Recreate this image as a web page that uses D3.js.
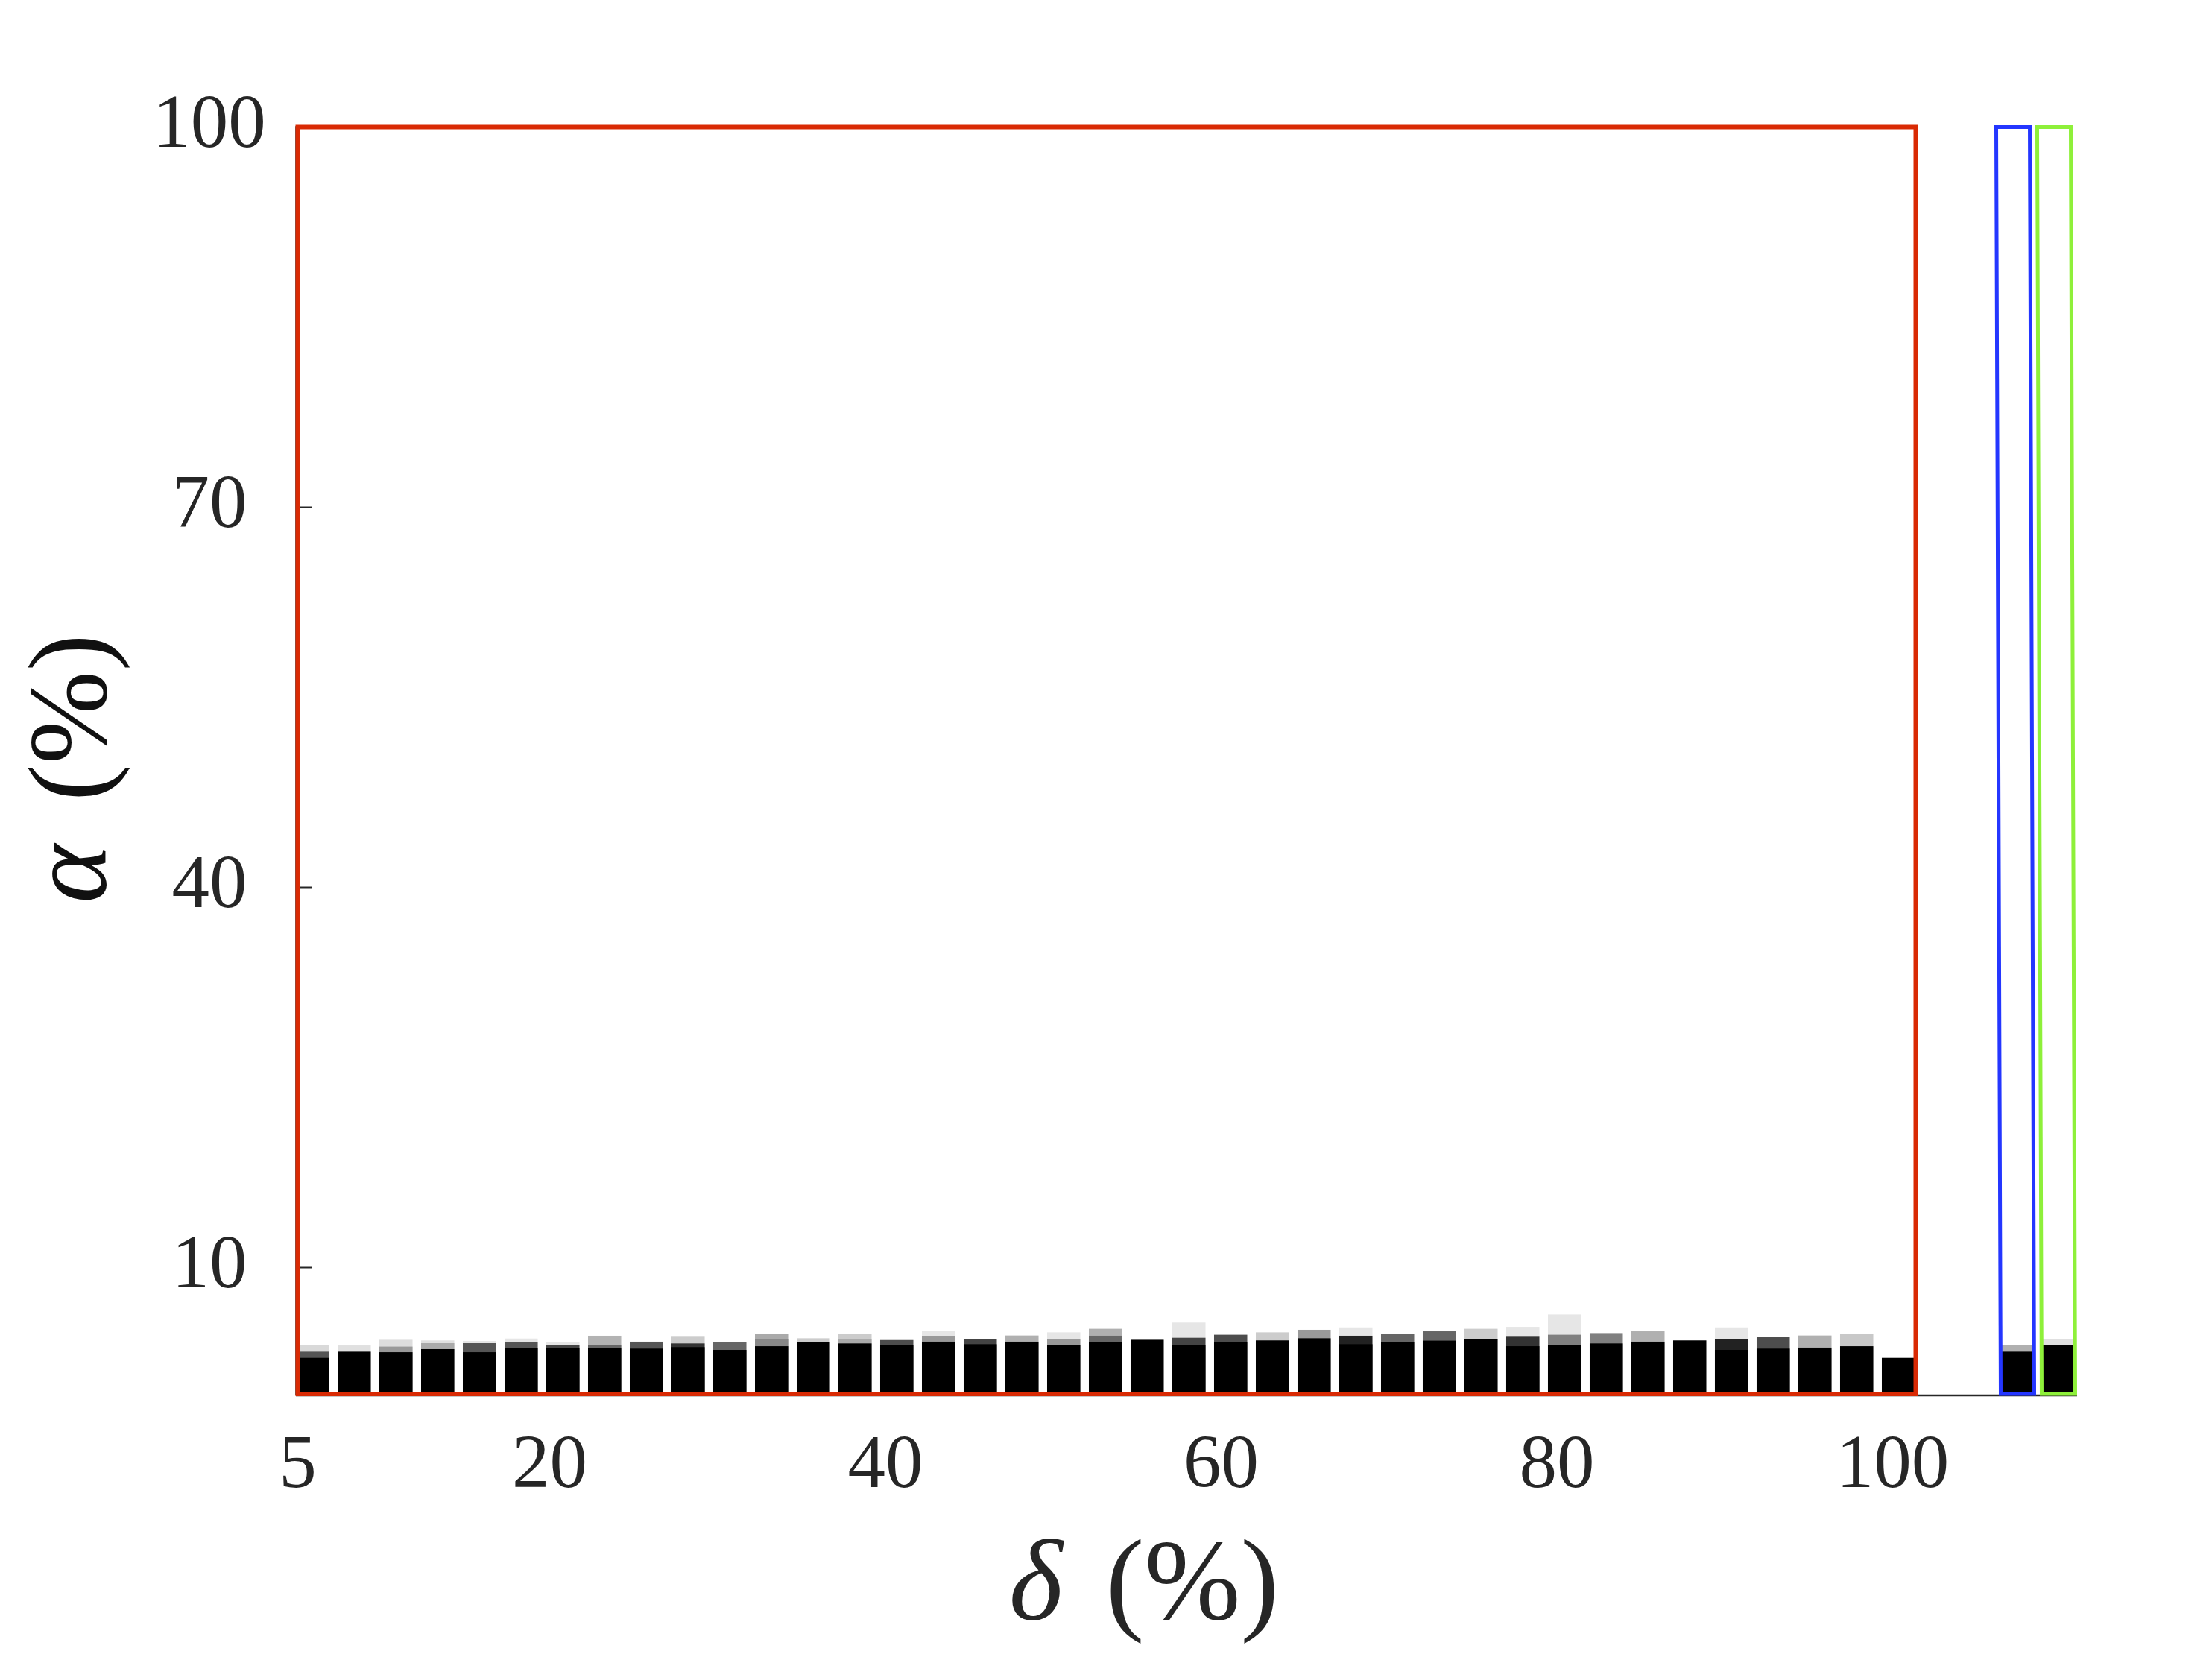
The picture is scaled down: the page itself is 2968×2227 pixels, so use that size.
<!DOCTYPE html>
<html>
<head>
<meta charset="utf-8">
<script src="https://cdn.jsdelivr.net/npm/d3@7"></script>
<style>
  html, body { margin: 0; padding: 0; background: #ffffff; }
  svg { display: block; }
</style>
</head>
<body>
<script>
// ---------------- data ----------------
const deltaValues = [5, 7.5, 10, 12.5, 15, 17.5, 20, 22.5, 25, 27.5, 30, 32.5, 35, 37.5, 40, 42.5, 45, 47.5, 50, 52.5,
  55, 57.5, 60, 62.5, 65, 67.5, 70, 72.5, 75, 77.5, 80, 82.5, 85, 87.5, 90, 92.5, 95, 97.5, 100];

// black (lowest) layer
const alphaBase = [2.84, 3.33, 3.29, 3.53, 3.29, 3.63, 3.63, 3.63, 3.57, 3.69, 3.47, 3.76, 4.06, 3.98, 3.86, 4.12, 3.92, 4.12, 3.86, 4.06,
  4.27, 3.86, 4.06, 4.22, 4.39, 3.92, 4.06, 4.20, 4.35, 3.76, 3.86, 3.98, 4.12, 4.22, 3.47, 3.57, 3.65, 3.76, 2.84];

// middle layer (null = none)
const alphaMid = [3.33, null, 3.73, 4.00, 4.00, 4.06, 3.86, 3.88, 4.12, 3.98, 4.06, 4.31, null, 4.35, 4.25, 4.53, 4.35, 4.61, 4.35, 4.59,
  null, 4.43, 4.67, 4.86, 5.06, 4.59, 4.75, 4.94, 5.14, 4.51, 4.67, 4.80, 4.94, null, 4.35, 4.47, 4.61, 4.75, null];
const shadeMid = ["#555555", null, "#999999", "#aaaaaa", "#555555", "#555555", "#444444", "#666666", "#555555", "#333333",
  "#666666", "#888888", null, "#aaaaaa", "#4d4d4d", "#999999", "#444444", "#b0b0b0", "#999999", "#666666",
  null, "#444444", "#4d4d4d", "#cccccc", "#999999", "#222222", "#666666", "#666666", "#cccccc", "#333333",
  "#808080", "#808080", "#b0b0b0", null, "#222222", "#4d4d4d", "#b0b0b0", "#c8c8c8", null];

// upper layer (null = none)
const alphaTop = [3.88, 3.82, 4.27, 4.22, 4.18, 4.37, 4.10, 4.59, null, 4.51, null, 4.75, 4.39, 4.75, null, 4.96, null, null, 4.86, 5.14,
  null, 5.63, null, null, null, 5.25, null, null, null, 5.29, 6.27, null, null, null, 5.25, null, null, null, null];
const shadeTop = ["#d9d9d9", "#e0e0e0", "#dddddd", "#e0e0e0", "#e6e6e6", "#e6e6e6", "#e6e6e6", "#b3b3b3", null, "#cccccc",
  null, "#aaaaaa", "#cccccc", "#cccccc", null, "#e6e6e6", null, null, "#e6e6e6", "#b0b0b0",
  null, "#e6e6e6", null, null, null, "#e6e6e6", null, null, null, "#e6e6e6",
  "#e6e6e6", null, null, null, "#e6e6e6", null, null, null, null];

// two extra reference bars (right side)
const extraNames = ["ref1", "ref2"];
const extraBase = [3.33, 3.86];
const extraTop = [3.86, 4.35];
const extraTopShade = ["#b0b0b0", "#e0e0e0"];
const extraBoxColor = ["#2436ff", "#8ef03a"];

const yTicks = [10, 40, 70, 100];
const xTicks = [5, 20, 40, 60, 80, 100];
const xLabelGreek = "δ";
const yLabelGreek = "α";
const unitLabel = "(%)";

// ---------------- layout ----------------
const W = 2968, H = 2227;
const plotLeft = 397, barsRight = 2569.5, extraLeft = 2682, extraRight = 2787;
const plotTop = 170, plotBottom = 1870;
const textColor = "#262626";
const font = "'Liberation Serif', 'DejaVu Serif', serif";
const redColor = "#d92a04";

const svg = d3.select("body").append("svg")
  .attr("width", W).attr("height", H)
  .attr("viewBox", `0 0 ${W} ${H}`);
svg.append("rect").attr("width", W).attr("height", H).attr("fill", "#ffffff");

const y = d3.scaleLinear().domain([0, 100]).range([plotBottom, plotTop]);
const xBand = d3.scaleBand().domain(deltaValues).range([plotLeft, barsRight]).paddingInner(0.205).paddingOuter(0);
const xTick = d3.scaleLinear().domain([5, 100]).range([399, 2539]);
const xExtra = d3.scaleBand().domain(extraNames).range([extraLeft, extraRight]).paddingInner(0.09).paddingOuter(0);

// ---------------- bars ----------------
const segments = [];
deltaValues.forEach((d, i) => {
  if (alphaTop[i] != null) segments.push({ d, v: alphaTop[i], c: shadeTop[i] });
  if (alphaMid[i] != null) segments.push({ d, v: alphaMid[i], c: shadeMid[i] });
  segments.push({ d, v: alphaBase[i], c: "#000000" });
});

svg.append("g").selectAll("rect").data(segments).join("rect")
  .attr("x", s => xBand(s.d))
  .attr("width", xBand.bandwidth())
  .attr("y", s => y(s.v))
  .attr("height", s => y(0) - y(s.v))
  .attr("fill", s => s.c);

const extraSegs = [];
extraNames.forEach((n, i) => {
  extraSegs.push({ n, v: extraTop[i], c: extraTopShade[i] });
  extraSegs.push({ n, v: extraBase[i], c: "#000000" });
});
const inset = 3.5;
svg.append("g").selectAll("rect").data(extraSegs).join("rect")
  .attr("x", s => xExtra(s.n) + inset)
  .attr("width", xExtra.bandwidth() - 2 * inset)
  .attr("y", s => y(s.v))
  .attr("height", s => y(0) - y(s.v))
  .attr("fill", s => s.c);

// ---------------- axes ----------------
svg.append("line")
  .attr("x1", plotLeft).attr("x2", extraRight)
  .attr("y1", y(0) + 2).attr("y2", y(0) + 2)
  .attr("stroke", textColor).attr("stroke-width", 2.5);

const gY = svg.append("g").attr("transform", `translate(${plotLeft},0)`)
  .call(d3.axisLeft(y).tickValues(yTicks).tickSize(-21).tickPadding(0).tickFormat(d => d));
gY.select(".domain").attr("stroke", textColor).attr("stroke-width", 2.5);
gY.selectAll(".tick line").attr("stroke", textColor).attr("stroke-width", 2);
gY.selectAll(".tick text")
  .attr("x", 281 - plotLeft).attr("dy", null).attr("y", 26)
  .attr("text-anchor", "middle")
  .attr("fill", textColor)
  .style("font-family", font).style("font-size", "101px");

const gX = svg.append("g").attr("transform", `translate(0,${plotBottom})`)
  .call(d3.axisBottom(xTick).tickValues(xTicks).tickSize(0).tickPadding(0).tickFormat(d => d));
gX.select(".domain").remove();
gX.selectAll(".tick text")
  .attr("dy", null).attr("y", 125)
  .attr("text-anchor", "middle")
  .attr("fill", textColor)
  .style("font-family", font).style("font-size", "101px");

// ---------------- highlight boxes ----------------
svg.append("rect")
  .attr("x", plotLeft + 2.5).attr("y", y(100) + 0.5)
  .attr("width", barsRight + 1 - (plotLeft + 2.5))
  .attr("height", y(0) - y(100) - 0.5)
  .attr("fill", "none").attr("stroke", redColor).attr("stroke-width", 6);

const skew = 6;
svg.append("g").selectAll("path").data(extraNames).join("path")
  .attr("d", n => {
    const p = d3.path();
    const l = xExtra(n) + 2.5, r = xExtra(n) + xExtra.bandwidth() - 2.5;
    p.moveTo(l, y(0));
    p.lineTo(r, y(0));
    p.lineTo(r - skew, y(100) + 0.5);
    p.lineTo(l - skew, y(100) + 0.5);
    p.closePath();
    return p.toString();
  })
  .attr("fill", "none")
  .attr("stroke", (n, i) => extraBoxColor[i])
  .attr("stroke-width", 5);

// ---------------- axis labels ----------------
const xl = svg.append("text")
  .attr("x", 1535).attr("y", 2172)
  .attr("text-anchor", "middle")
  .attr("fill", textColor)
  .style("font-family", font).style("font-size", "155px");
xl.append("tspan").style("font-style", "italic").text(xLabelGreek);
xl.append("tspan").attr("dx", 58).text(unitLabel);

const yl = svg.append("text")
  .attr("transform", `translate(142,${(plotTop + plotBottom) / 2 + 11}) rotate(-90)`)
  .attr("text-anchor", "middle")
  .attr("fill", "#111111")
  .style("font-family", font).style("font-size", "150px");
yl.append("tspan").style("font-style", "italic").text(yLabelGreek);
yl.append("tspan").attr("dx", 58).text(unitLabel);
</script>
</body>
</html>
